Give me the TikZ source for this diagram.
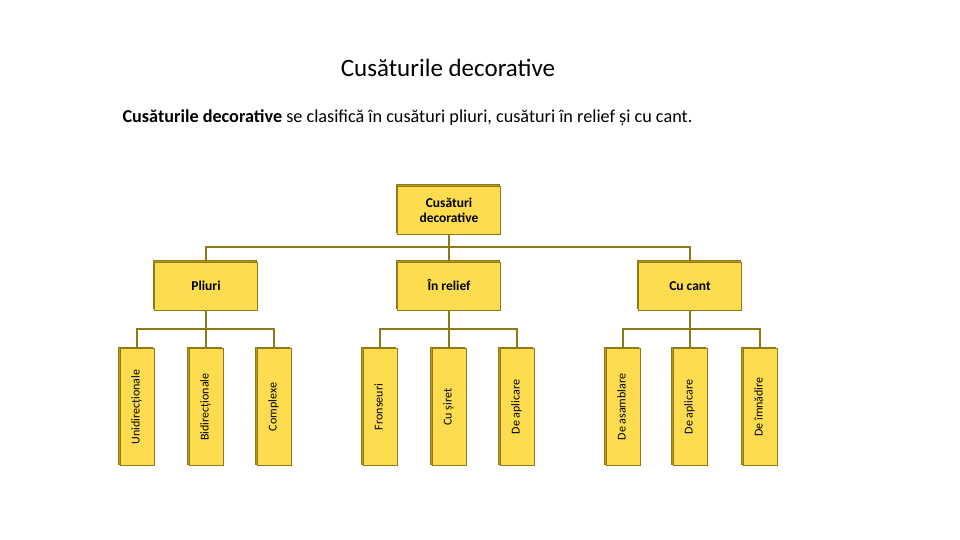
\documentclass[tikz,border=0pt]{standalone}
\usepackage{fontspec}
\setmainfont{Carlito}
\usetikzlibrary{positioning,shadows}
\definecolor{boxfill}{HTML}{FDDC4F}
\definecolor{boxline}{HTML}{8F7A16}
\definecolor{boxback}{HTML}{B39A2A}
\tikzset{
  box/.style={draw=boxline, fill=boxfill, line width=0.8pt,
    copy shadow={shadow xshift=-1.5pt, shadow yshift=1.5pt, fill=boxback, draw=boxline},
    align=center, inner sep=0pt},
  catbox/.style={box, minimum width=103pt, minimum height=48pt,
    font=\fontsize{13.5}{15}\selectfont\bfseries},
  midbox/.style={catbox, text height=8.5pt, text depth=0pt},
  leafbox/.style={box, minimum width=34pt, minimum height=117pt,
    font=\fontsize{12}{13}\selectfont},
  link/.style={draw=boxline, line width=2pt}
}
\newcommand{\up}[1]{\rotatebox{90}{#1\strut}}
\begin{document}
\begin{tikzpicture}[x=1pt, y=1pt, node distance=76pt]
    \useasboundingbox (0,0) rectangle (960,-540);
    \node (title) at (448,-68) {\fontsize{25}{27}\selectfont Cusăturile decorative};
    \node (intro) [anchor=west] at (119,-118)
      {\fontsize{18.2}{20}\selectfont \textbf{Cusăturile decorative} se clasifică în cusături pliuri, cusături în relief și cu cant.};
    \node (root) [catbox] at (449,-210) {Cusături\\decorative};
    \node (relief) [midbox, below of=root] {În relief};
    \node (pliuri) [midbox, node distance=243pt, left of=relief] {Pliuri};
    \node (cant) [midbox, node distance=241pt, right of=relief] {Cu cant};
    % leaves
    \node (fron) [leafbox, node distance=121pt, below of=relief, xshift=-69pt] {\up{Fronseuri}};
    \node (siret) [leafbox, node distance=121pt, below of=relief] {\up{Cu șiret}};
    \node (aplic) [leafbox, node distance=121pt, below of=relief, xshift=68pt] {\up{De aplicare}};
    \node (unid) [leafbox, node distance=121pt, below of=pliuri, xshift=-69pt] {\up{Unidirecționale}};
    \node (bid) [leafbox, node distance=121pt, below of=pliuri] {\up{Bidirecționale}};
    \node (compl) [leafbox, node distance=121pt, below of=pliuri, xshift=68pt] {\up{Complexe}};
    \node (asam) [leafbox, node distance=121pt, below of=cant, xshift=-67pt] {\up{De asamblare}};
    \node (aplic2) [leafbox, node distance=121pt, below of=cant] {\up{De aplicare}};
    \node (imnad) [leafbox, node distance=121pt, below of=cant, xshift=70pt] {\up{De îmnădire}};
    \draw[link] (root.south) -- ++(0,-13) -| (pliuri.north);
    \draw[link] (root.south) -- ++(0,-13) -| (cant.north);
    \draw[link] (root.south) -- (relief.north);
    \foreach \p/\a/\b/\c in {pliuri/unid/bid/compl, relief/fron/siret/aplic, cant/asam/aplic2/imnad} {
      \draw[link] (\p.south) -- ++(0,-19) -| (\a.north);
      \draw[link] (\p.south) -- ++(0,-19) -| (\c.north);
      \draw[link] (\p.south) -- (\b.north);
    }
  \end{tikzpicture}
\end{document}
